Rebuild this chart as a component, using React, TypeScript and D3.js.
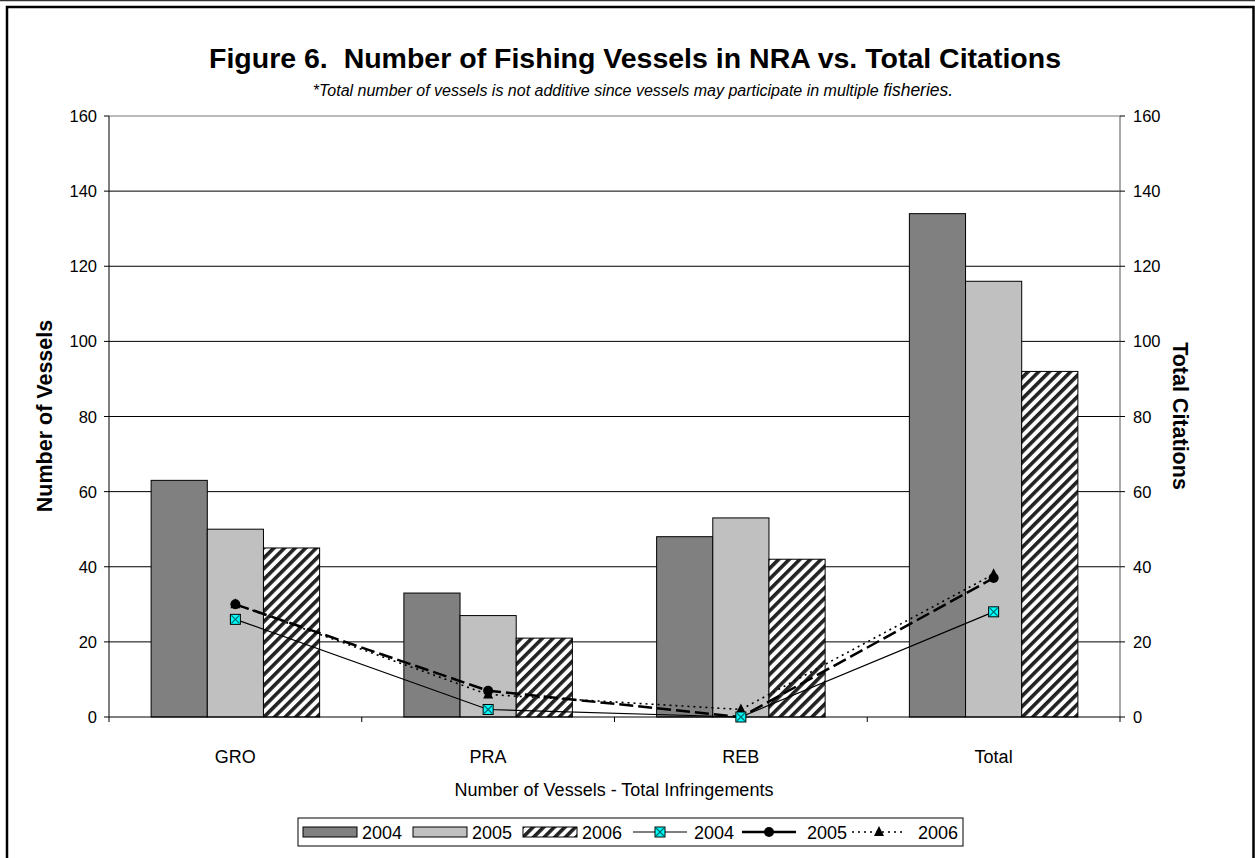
import React from 'react';
import * as d3 from 'd3';

const categories = ['GRO', 'PRA', 'REB', 'Total'];
const barYears = ['2004', '2005', '2006'];
const vessels2004 = [63, 33, 48, 134];
const vessels2005 = [50, 27, 53, 116];
const vessels2006 = [45, 21, 42, 92];
const citations2004 = [26, 2, 0, 28];
const citations2005 = [30, 7, 0, 37];
const citations2006 = [30, 6, 2, 38];
const yTicks = [0, 20, 40, 60, 80, 100, 120, 140, 160];

const W = 1255;
const H = 858;
const plot = { left: 109, right: 1120, top: 116, bottom: 717 };
const font = 'Arial, "Liberation Sans", sans-serif';

const barFills = ['#808080', '#c0c0c0', 'url(#hatch)'];

function Marker({ kind, x, y }: { kind: string; x: number; y: number }) {
  if (kind === 'x') {
    return (
      <g>
        <rect x={x - 5} y={y - 5} width={10} height={10} fill="#00ffff" stroke="#000" strokeWidth={1} />
        <path d={`M${x - 4},${y - 4}L${x + 4},${y + 4}M${x + 4},${y - 4}L${x - 4},${y + 4}`} stroke="#006b6b" strokeWidth={1.2} />
      </g>
    );
  }
  if (kind === 'circle') return <circle cx={x} cy={y} r={5} fill="#000" />;
  return <path d={`M${x},${y - 6}L${x + 5},${y + 4}L${x - 5},${y + 4}Z`} fill="#000" />;
}

export default function App() {
  const x0 = d3.scaleBand<string>().domain(categories).range([plot.left, plot.right]).paddingInner(0).paddingOuter(0);
  const groupInner = x0.bandwidth() * (3 / 4.5);
  const x1 = d3.scaleBand<string>().domain(barYears).range([0, groupInner]).padding(0);
  const y = d3.scaleLinear().domain([0, 160]).range([plot.bottom, plot.top]);
  const yR = d3.scaleLinear().domain([0, 160]).range([plot.bottom, plot.top]);

  const barSeries = [vessels2004, vessels2005, vessels2006];
  const lineSeries = [
    { year: '2004', values: citations2004, dash: '', width: 1.2, marker: 'x' },
    { year: '2005', values: citations2005, dash: '14 5', width: 2.5, marker: 'circle' },
    { year: '2006', values: citations2006, dash: '2 4', width: 1.6, marker: 'tri' },
  ];
  const cx = (c: string) => (x0(c) as number) + x0.bandwidth() / 2;
  const line = d3.line<number>().x((_, i) => cx(categories[i])).y((d) => yR(d));

  // legend layout
  const legY = 832;
  const swatchW = 54;
  const barLeg = [303, 413, 523];
  const lineLeg = [633, 742, 852];
  const lineText = [694, 807, 918];

  return (
    <svg width={W} height={H} style={{ position: 'absolute', left: 0, top: 0, background: '#fff' }} fontFamily={font}>
      <defs>
        <pattern id="hatch" width={7.5} height={7.5} patternUnits="userSpaceOnUse" patternTransform="rotate(45)">
          <rect width={7.5} height={7.5} fill="#fff" />
          <rect width={3.6} height={7.5} fill="#222" />
        </pattern>
      </defs>
      <rect width={W} height={H} fill="#fff" />
      <line x1={0} x2={W} y1={0.5} y2={0.5} stroke="#333" strokeWidth={1.5} />
      <rect x={7} y={7} width={W - 8.5} height={H + 10} fill="none" stroke="#000" strokeWidth={2.5} />

      <text x={635} y={68} textAnchor="middle" fontSize={28.5} fontWeight="bold">
        Figure 6.{'\u00a0\u00a0'}Number of Fishing Vessels in NRA vs. Total Citations
      </text>
      <text x={633} y={96} textAnchor="middle" fontSize={16} fontStyle="italic">
        *Total number of vessels is not additive since vessels may participate in multiple{' '}
        <tspan fontSize={17.5}>fisheries.</tspan>
      </text>

      {/* gridlines */}
      {yTicks.filter((t) => t > 0).map((t) => (
        <line key={t} x1={plot.left} x2={plot.right} y1={y(t)} y2={y(t)} stroke={t === 160 ? '#777' : '#000'} strokeWidth={1} />
      ))}

      {/* bars */}
      {categories.map((c, ci) => (
        <g key={c} transform={`translate(${(x0(c) as number) + (x0.bandwidth() - groupInner) / 2},0)`}>
          {barSeries.map((s, si) => (
            <rect
              key={si}
              x={x1(barYears[si])}
              y={y(s[ci])}
              width={x1.bandwidth()}
              height={y(0) - y(s[ci])}
              fill={barFills[si]}
              stroke="#000"
              strokeWidth={1}
            />
          ))}
        </g>
      ))}

      {/* axes */}
      <line x1={plot.left} x2={plot.left} y1={plot.top} y2={plot.bottom} stroke="#000" />
      <line x1={plot.right} x2={plot.right} y1={plot.top} y2={plot.bottom} stroke="#555" />
      <line x1={plot.left} x2={plot.right} y1={plot.bottom} y2={plot.bottom} stroke="#000" />
      {yTicks.map((t) => (
        <g key={t}>
          <line x1={plot.left - 5} x2={plot.left} y1={y(t)} y2={y(t)} stroke="#000" />
          <text x={97} y={y(t) + 6} textAnchor="end" fontSize={16.5}>{t}</text>
          <line x1={plot.right} x2={plot.right + 5} y1={yR(t)} y2={yR(t)} stroke="#000" />
          <text x={1133} y={yR(t) + 6} textAnchor="start" fontSize={16.5}>{t}</text>
        </g>
      ))}
      {categories.map((c) => (
        <line key={c} x1={x0(c)} x2={x0(c)} y1={plot.bottom} y2={plot.bottom + 5} stroke="#000" />
      ))}
      <line x1={plot.right} x2={plot.right} y1={plot.bottom} y2={plot.bottom + 5} stroke="#000" />
      {categories.map((c) => (
        <text key={c} x={cx(c)} y={763} textAnchor="middle" fontSize={18}>{c}</text>
      ))}
      <text x={614} y={796} textAnchor="middle" fontSize={18}>Number of Vessels - Total Infringements</text>
      <text transform={`translate(52,416) rotate(-90)`} textAnchor="middle" fontSize={21.5} fontWeight="bold">Number of Vessels</text>
      <text transform={`translate(1173,416) rotate(90)`} textAnchor="middle" fontSize={21.5} fontWeight="bold">Total Citations</text>

      {/* lines */}
      {lineSeries.map((s) => (
        <path key={s.year} d={line(s.values) || ''} fill="none" stroke="#000" strokeWidth={s.width} strokeDasharray={s.dash} />
      ))}
      {lineSeries.slice().reverse().map((s) => (
        <g key={s.year}>
          {s.values.map((v, i) => (
            <Marker key={i} kind={s.marker} x={cx(categories[i])} y={yR(v)} />
          ))}
        </g>
      ))}

      {/* legend */}
      <rect x={298} y={818} width={665} height={28} fill="#fff" stroke="#000" strokeWidth={1} />
      {barYears.map((yr, i) => (
        <g key={yr}>
          <rect x={barLeg[i]} y={legY - 5} width={swatchW} height={10} fill={barFills[i]} stroke="#000" />
          <text x={barLeg[i] + swatchW + 5} y={legY + 6.5} fontSize={18}>{yr}</text>
        </g>
      ))}
      {lineSeries.map((s, i) => (
        <g key={s.year}>
          <line x1={lineLeg[i]} x2={lineLeg[i] + swatchW} y1={legY} y2={legY} stroke="#000" strokeWidth={s.width} strokeDasharray={s.marker === 'tri' ? '2 4' : ''} />
          <Marker kind={s.marker} x={lineLeg[i] + swatchW / 2} y={legY} />
          <text x={lineText[i]} y={legY + 6.5} fontSize={18}>{s.year}</text>
        </g>
      ))}
    </svg>
  );
}
